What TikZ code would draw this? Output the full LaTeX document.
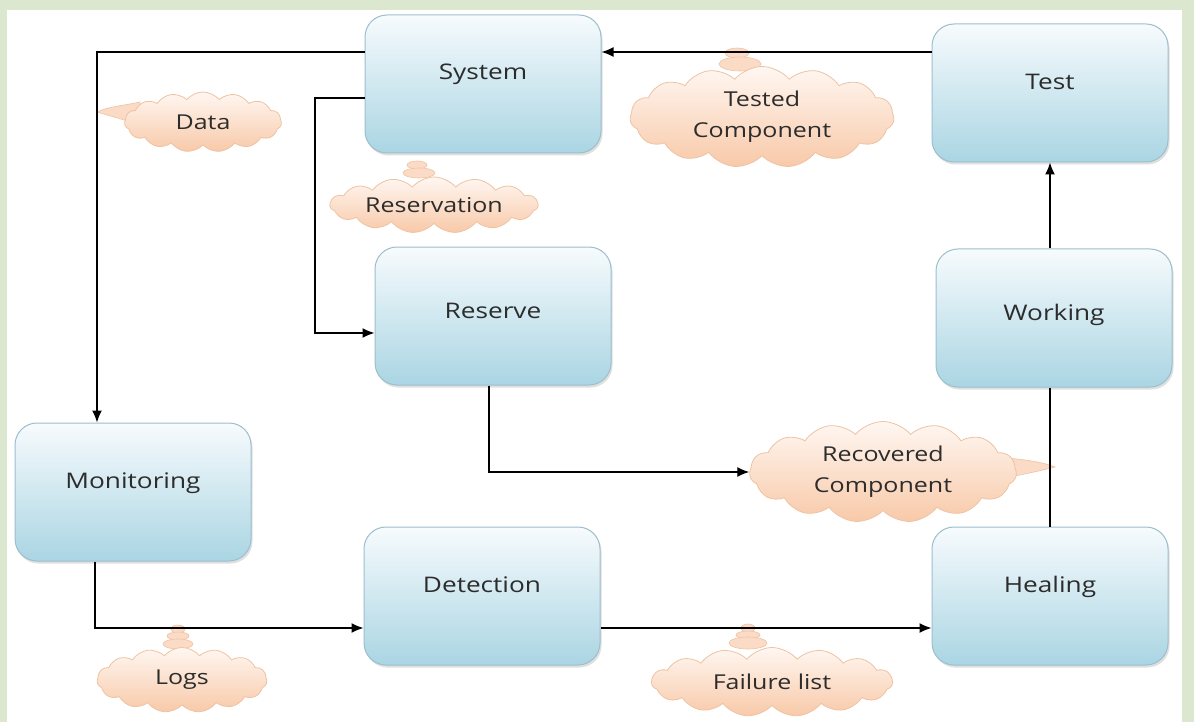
\documentclass[tikz,border=0pt]{standalone}
\usepackage{fontspec}
\setmainfont{Open Sans}[FakeStretch=1.22]
\usepackage{tikz}
\usetikzlibrary{shapes.symbols,shadows,arrows.meta}
\definecolor{bggreen}{HTML}{DCE7D0}
\definecolor{boxtop}{HTML}{F7FBFD}
\definecolor{boxbot}{HTML}{AAD5E3}
\definecolor{boxline}{HTML}{9DBFCD}
\definecolor{cldtop}{HTML}{FFF7F2}
\definecolor{cldbot}{HTML}{F8C9A8}
\definecolor{cldline}{HTML}{EEC3A3}
\definecolor{txt}{HTML}{2C2C2C}
\begin{document}
\begin{tikzpicture}[x=100pt, y=-100pt, >={Latex[length=12pt,width=10pt]}]

\tikzstyle{box} = [rectangle, rounded corners=22pt, draw=boxline, line width=1pt,
  top color=boxtop, bottom color=boxbot, minimum width=236pt, minimum height=138pt,
  inner sep=0pt, text=txt, font=\fontsize{21.5}{25}\selectfont,
  text height=15pt, text depth=22pt,
  drop shadow={shadow xshift=1.5pt, shadow yshift=-2.5pt, opacity=0.25}]
\tikzstyle{cld} = [cloud, cloud puffs=15, cloud puff arc=100, cloud ignores aspect,
  draw=cldline, line width=0.8pt,
  top color=cldtop, bottom color=cldbot, inner sep=0pt, text=txt, align=center,
  font=\fontsize{20.5}{31}\selectfont]
\tikzstyle{puff} = [fill=cldbot!60!cldtop, draw=cldline, line width=0.6pt]
\tikzstyle{wire} = [line width=1.4pt, black]

% page
\useasboundingbox (0,0) rectangle (11.94,7.22);
\fill[bggreen] (0,0) rectangle (11.94,7.22);
\fill[white] (0.07,0.10) rectangle (11.82,7.22);

% boxes
\node[box, text depth=24pt] (s) at (4.83,0.84) {System};
\node[box] (t) at (10.50,0.93) {Test};
\node[box, text depth=10pt] (r) at (4.93,3.16) {Reserve};
\node[box, text depth=10pt] (w) at (10.54,3.18) {Working};
\node[box] (m) at (1.33,4.92) {Monitoring};
\node[box] (d) at (4.82,5.96) {Detection};
\node[box] (h) at (10.50,5.96) {Healing};

% tails and bubbles
\path[puff] (0.97,1.12) .. controls (1.10,1.06) and (1.22,1.06) .. (1.40,1.02)
  -- (1.40,1.25) .. controls (1.22,1.19) and (1.10,1.16) .. cycle;
\path[puff] (10.55,4.67) .. controls (10.40,4.61) and (10.20,4.59) .. (9.95,4.57)
  -- (9.95,4.80) .. controls (10.20,4.75) and (10.40,4.71) .. cycle;
\path[puff] (7.37,0.53) ellipse (12pt and 5pt);
\path[puff] (7.40,0.64) ellipse (21pt and 7pt);
\path[puff] (4.17,1.65) ellipse (10pt and 4pt);
\path[puff] (4.19,1.73) ellipse (16pt and 5pt);
\path[puff] (1.78,6.29) ellipse (7pt and 4pt);
\path[puff] (1.78,6.36) ellipse (11pt and 4pt);
\path[puff] (1.78,6.44) ellipse (15pt and 5pt);
\path[puff] (7.48,6.28) ellipse (7pt and 4pt);
\path[puff] (7.48,6.35) ellipse (12pt and 4pt);
\path[puff] (7.48,6.43) ellipse (19pt and 6pt);

% clouds
\node[cld, minimum width=157pt, minimum height=60pt] (da) at (2.03,1.22) {Data};
\node[cld, minimum width=264pt, minimum height=101pt] (tc) at (7.62,1.17) {Tested\\Component};
\node[cld, minimum width=208pt, minimum height=56pt] (rv) at (4.34,2.05) {Reservation};
\node[cld, minimum width=267pt, minimum height=101pt] (rc) at (8.83,4.72) {Recovered\\Component};
\node[cld, minimum width=170pt, minimum height=65pt] (lg) at (1.82,6.80) {Logs};
\node[cld, minimum width=241pt, minimum height=69pt] (fl) at (7.72,6.82) {Failure list};

% connectors
\coordinate (top) at (0,0.52);
\coordinate (lft) at (0.97,0);
\coordinate (bend) at (3.15,0.98);

\draw[wire, ->] (t.west |- top) -- (s.east |- top);
\draw[wire, ->] (s.west |- top) -| (lft |- m.north);
\draw[wire, ->] (s.west |- bend) -- (bend) |- ([yshift=-17pt]r.west);
\draw[wire, ->] ([xshift=-4pt]r.south) |- (rc.west);
\draw[wire, ->] ([xshift=-38pt]m.south) |- ([yshift=-32pt]d.west);
\draw[wire, ->] ([yshift=-32pt]d.east) -- ([yshift=-32pt]h.west);
\draw[wire] (h.north) -- (h.north |- w.south);
\draw[wire, ->] (t.south |- w.north) -- (t.south);

\end{tikzpicture}
\end{document}
